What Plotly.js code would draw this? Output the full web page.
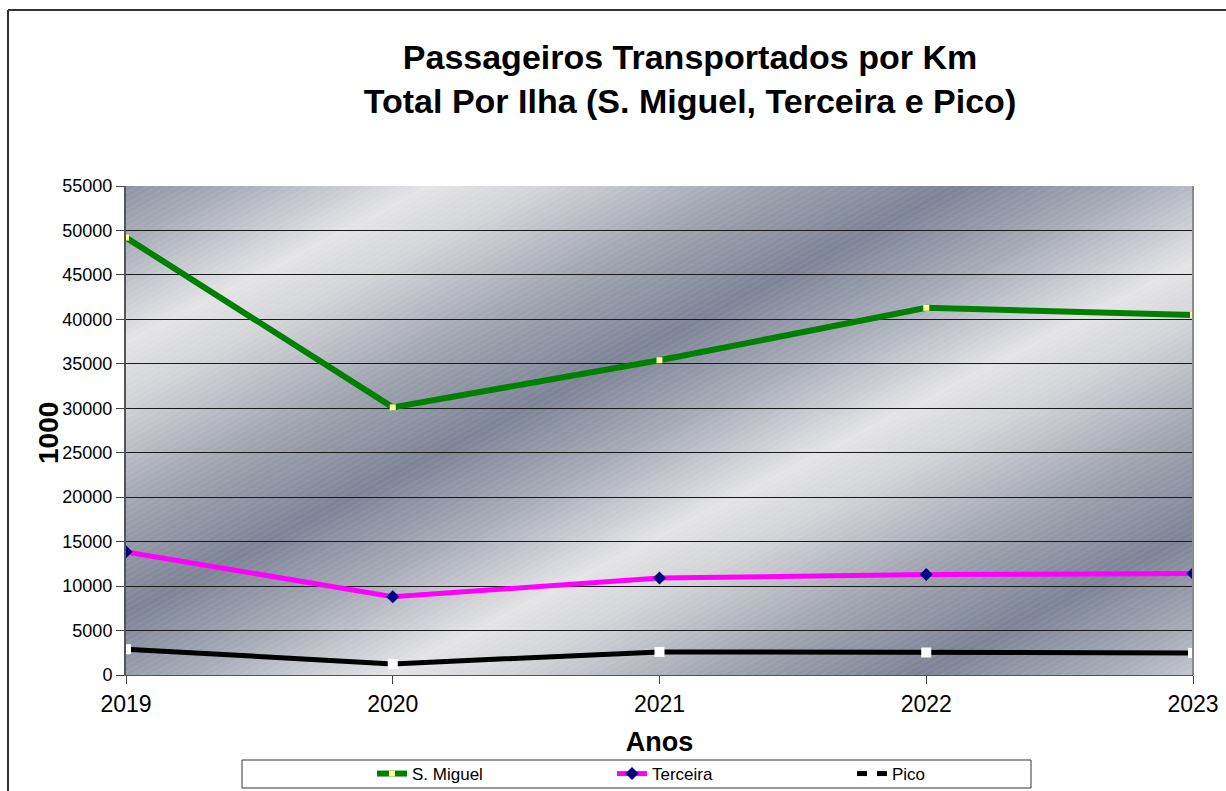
<!DOCTYPE html>
<html>
<head>
<meta charset="utf-8">
<script src="https://cdn.plot.ly/plotly-3.0.1.min.js"></script>
<style>
html,body{margin:0;padding:0;background:#fff;}
#chart{width:1226px;height:791px;}
</style>
</head>
<body>
<div id="chart"></div>
<script>
// Data
const years = [2019, 2020, 2021, 2022, 2023];
const seriesNames = ["S. Miguel", "Terceira", "Pico"];
const sMiguel = [49200, 30100, 35400, 41300, 40500];
const terceira = [13850, 8800, 10900, 11300, 11420];
const pico = [2900, 1250, 2600, 2530, 2480];
const yTicks = [0, 5000, 10000, 15000, 20000, 25000, 30000, 35000, 40000, 45000, 50000, 55000];
const titleText = "Passageiros Transportados por Km<br>Total Por Ilha (S. Miguel, Terceira e Pico)";
const xTitle = "Anos";
const yTitle = "1000";

// background gradient (diagonal stripes)
const bgSvg = `<svg xmlns="http://www.w3.org/2000/svg" width="1067" height="489" viewBox="0 0 1067 489" preserveAspectRatio="none">
<defs>
<linearGradient id="g" gradientUnits="userSpaceOnUse" x1="0" y1="-40" x2="190" y2="330" spreadMethod="repeat">
<stop offset="0" stop-color="#7c8396"/>
<stop offset="0.2" stop-color="#a7abb7"/>
<stop offset="0.42" stop-color="#e4e4e6"/>
<stop offset="0.55" stop-color="#d2d3d7"/>
<stop offset="0.78" stop-color="#9fa3af"/>
<stop offset="1" stop-color="#7c8396"/>
</linearGradient>
<pattern id="p" width="5" height="5" patternUnits="userSpaceOnUse" patternTransform="rotate(-30)">
<rect width="5" height="2" fill="#ffffff" fill-opacity="0.06"/>
</pattern>
</defs>
<rect width="1067" height="489" fill="url(#g)"/>
<rect width="1067" height="489" fill="url(#p)"/>
</svg>`;
const bgUri = "data:image/svg+xml;base64," + btoa(bgSvg);

const W = 1226, H = 791;
const L = 126, R = 33, T = 186, B = 116;
const pw = W - L - R, ph = H - T - B;
const px = v => (v - L) / pw;
const py = v => (H - B - v) / ph;

const traces = [
  {x: years, y: sMiguel, name: seriesNames[0], type: "scatter", mode: "lines+markers",
   line: {color: "#008000", width: 6},
   marker: {symbol: "square", size: 6, color: "#ffff99", line: {width: 0}}},
  {x: years, y: terceira, name: seriesNames[1], type: "scatter", mode: "lines+markers",
   line: {color: "#ff00ff", width: 5},
   marker: {symbol: "diamond", size: 10, color: "#000080", line: {width: 0}}},
  {x: years, y: pico, name: seriesNames[2], type: "scatter", mode: "lines+markers",
   line: {color: "#000000", width: 5},
   marker: {symbol: "square", size: 10, color: "#ffffff", line: {width: 0}}}
];

const layout = {
  width: W, height: H,
  margin: {l: L, r: R, t: T, b: B, pad: 0, autoexpand: false},
  paper_bgcolor: "#ffffff",
  plot_bgcolor: "#a0a4b0",
  font: {family: "Arial, Liberation Sans, sans-serif", color: "#000"},
  title: {text: titleText, font: {size: 34, family: "Arial, Liberation Sans, sans-serif", color: "#000", weight: "bold"},
          x: 690 / W, xanchor: "center", y: 1 - 69 / H, yanchor: "middle", xref: "container", yref: "container"},
  xaxis: {
    range: [2019, 2023], tickvals: years, ticktext: years.map(String),
    tickfont: {size: 23}, ticks: "outside", ticklen: 8, tickcolor: "#444",
    showgrid: false, zeroline: false, showline: true, linecolor: "#555", linewidth: 1,
    title: {text: xTitle, font: {size: 27, weight: "bold"}, standoff: 16},
    fixedrange: true, automargin: false
  },
  yaxis: {
    range: [0, 55000], tickvals: yTicks, ticktext: yTicks.map(String),
    tickfont: {size: 18}, ticks: "outside", ticklen: 8, tickcolor: "#444",
    showgrid: true, gridcolor: "#1a1a1a", gridwidth: 1,
    zeroline: false, showline: true, linecolor: "#555", linewidth: 2, mirror: false,
    fixedrange: true, automargin: false
  },
  showlegend: true,
  legend: {orientation: "h", x: px(372), y: py(774), xanchor: "left", yanchor: "middle",
           entrywidth: 195, entrywidthmode: "pixels", font: {size: 17}, bgcolor: "rgba(0,0,0,0)",
           itemwidth: 30, tracegroupgap: 0},
  images: [{source: bgUri, xref: "paper", yref: "paper", x: 0, y: 1, sizex: 1, sizey: 1,
            sizing: "stretch", layer: "below", xanchor: "left", yanchor: "top"}],
  annotations: [
    {text: yTitle, xref: "paper", yref: "paper", x: px(48), y: py(433), textangle: -90,
     showarrow: false, font: {size: 28, weight: "bold"}, xanchor: "center", yanchor: "middle"}
  ],
  shapes: [
    {type: "line", xref: "paper", yref: "paper", x0: px(8), x1: px(1226), y0: py(10), y1: py(10), line: {color: "#333", width: 2}},
    {type: "line", xref: "paper", yref: "paper", x0: px(8), x1: px(8), y0: py(10), y1: py(791), line: {color: "#333", width: 2}},
    {type: "line", xref: "paper", yref: "paper", x0: 1, x1: 1, y0: 0, y1: 1, line: {color: "#8a8a8a", width: 2}},
    {type: "rect", xref: "paper", yref: "paper", x0: px(242), x1: px(1031), y0: py(760), y1: py(788), line: {color: "#333", width: 1}, fillcolor: "rgba(0,0,0,0)"}
  ]
};

Plotly.newPlot("chart", traces, layout, {displayModeBar: false, staticPlot: true});
</script>
</body>
</html>
